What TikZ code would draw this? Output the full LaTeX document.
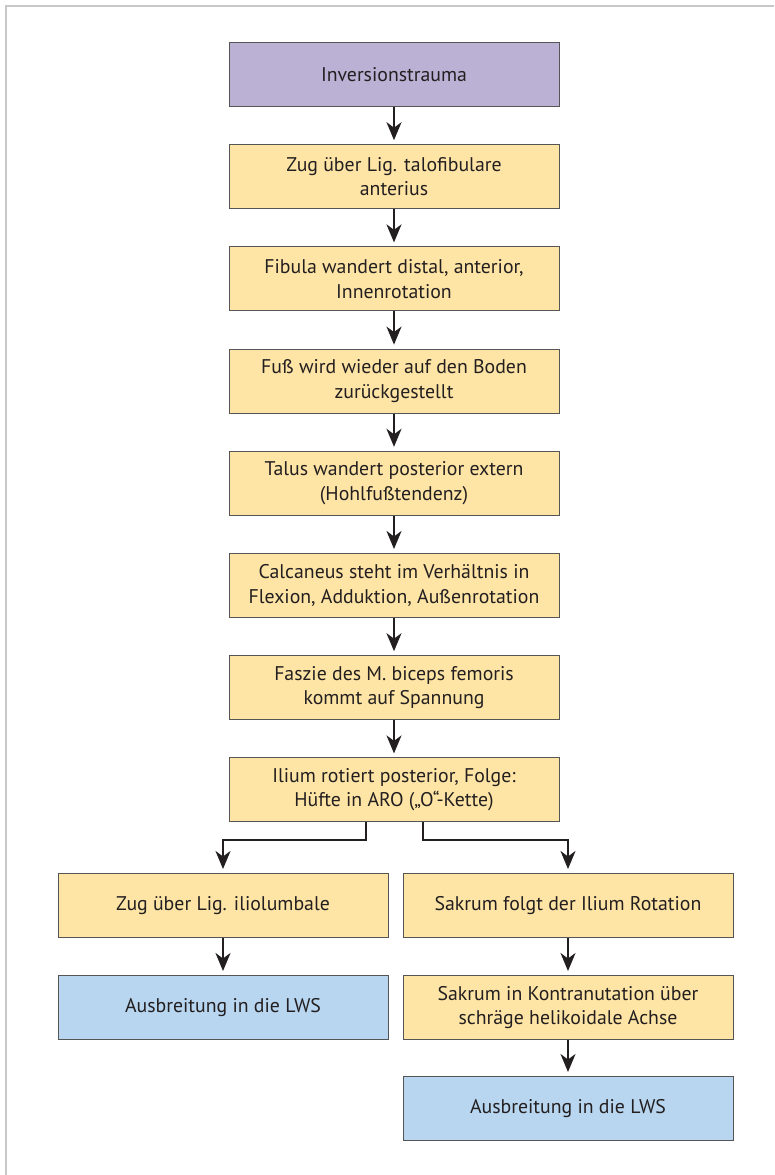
\documentclass[tikz,border=0pt]{standalone}
\usepackage{fontspec}
\setmainfont{PT Sans}
\usetikzlibrary{arrows.meta}
\definecolor{txt}{HTML}{231F20}
\definecolor{purp}{HTML}{BBB1D5}
\definecolor{yel}{HTML}{FEE5A6}
\definecolor{blu}{HTML}{B8D6F0}
\definecolor{edge}{HTML}{555555}
\definecolor{frame}{HTML}{C8C8C8}
\tikzset{
  box/.style={draw=edge, line width=1pt, minimum width=330pt, minimum height=64pt,
    inner sep=0pt, align=center, text=txt, font=\fontsize{19.8}{24.5}\selectfont},
  startbox/.style={box, fill=purp},
  stepbox/.style={box, fill=yel},
  endbox/.style={box, fill=blu},
  conn/.style={draw=txt, line width=2pt, -{Stealth[length=18pt,width=15pt,inset=5.5pt]}, shorten >=4pt}
}
\begin{document}
\begin{tikzpicture}[x=1pt,y=-1pt]
\useasboundingbox (0,0) rectangle (774,1175);
\fill[white] (0,0) rectangle (774,1175);
\draw[frame, line width=2pt] (5.5,1175) -- (5.5,5.5) -- (774,5.5);

\node[startbox] (b1) at (394,74.5) {Inversionstrauma};
\node[stepbox] (b2) at (394,176.7) {Zug über Lig. talofibulare\\anterius};
\node[stepbox] (b3) at (394,278.9) {Fibula wandert distal, anterior,\\Innenrotation};
\node[stepbox] (b4) at (394,381.1) {Fuß wird wieder auf den Boden\\zurückgestellt};
\node[stepbox] (b5) at (394,483.3) {Talus wandert posterior extern\\(Hohlfußtendenz)};
\node[stepbox] (b6) at (394,585.5) {Calcaneus steht im Verhältnis in\\Flexion, Adduktion, Außenrotation};
\node[stepbox] (b7) at (394,687.7) {Faszie des M. biceps femoris\\kommt auf Spannung};
\node[stepbox] (b8) at (394,789.9) {Ilium rotiert posterior, Folge:\\Hüfte in ARO („O“-Kette)};

\node[stepbox] (l1) at (223,905.5) {Zug über Lig. iliolumbale};
\node[endbox] (l2) at (223,1007.5) {Ausbreitung in die LWS};
\node[stepbox] (r1) at (568,905.5) {Sakrum folgt der Ilium Rotation};
\node[stepbox] (r2) at (568,1007.5) {Sakrum in Kontranutation über\\schräge helikoidale Achse};
\node[endbox] (r3) at (568,1108.5) {Ausbreitung in die LWS};

\foreach \a/\b in {b1/b2,b2/b3,b3/b4,b4/b5,b5/b6,b6/b7,b7/b8,l1/l2,r1/r2,r2/r3}
  \draw[conn] (\a.south) -- (\b.north);

\coordinate (bl) at ([xshift=-28.5pt]b8.south);
\coordinate (br) at ([xshift=28.5pt]b8.south);
\draw[conn] (bl) |- (223,840) -- (l1.north);
\draw[conn] (br) |- (568,840) -- (r1.north);
\end{tikzpicture}
\end{document}
